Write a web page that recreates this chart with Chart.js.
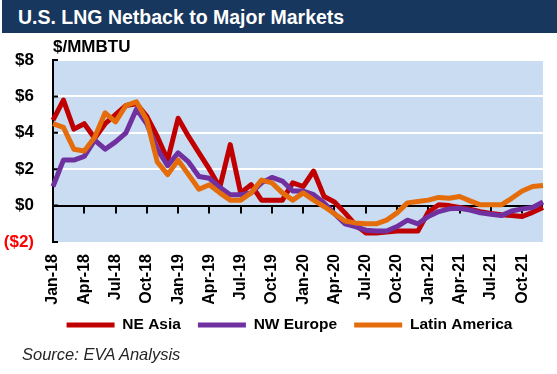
<!DOCTYPE html>
<html>
<head>
<meta charset="utf-8">
<script src="https://cdn.jsdelivr.net/npm/chart.js@4.4.1/dist/chart.umd.min.js"></script>
<style>
  html, body { margin: 0; padding: 0; background: #fff; }
  #wrap { position: relative; width: 557px; height: 374px; overflow: hidden; font-family: 'Liberation Sans', Arial, sans-serif; }
  #title { position: absolute; left: 2px; top: 0; width: 555px; height: 33px; background: #17375E; color: #fff; font-weight: bold; font-size: 19.5px; line-height: 34px; padding-left: 16px; box-sizing: border-box; }
  #unit { position: absolute; left: 53px; top: 37px; font-weight: bold; font-size: 17px; }
  #source { position: absolute; left: 22px; top: 345px; font-style: italic; font-size: 16.5px; color: #262626; }
  canvas { position: absolute; left: 0; top: 0; }
</style>
</head>
<body>
<div id="wrap">
  <canvas id="netback-canvas" width="557" height="374"></canvas>
  <div id="title">U.S. LNG Netback to Major Markets</div>
  <div id="unit">$/MMBTU</div>
  <div id="source">Source: EVA Analysis</div>
</div>
<script>
/* eslint-disable no-undef */
// Meses (ene-18 a dic-21)
const months = [
  'Jan-18', 'Feb-18', 'Mar-18', 'Apr-18', 'May-18', 'Jun-18', 'Jul-18', 'Aug-18', 'Sep-18', 'Oct-18', 'Nov-18', 'Dec-18',
  'Jan-19', 'Feb-19', 'Mar-19', 'Apr-19', 'May-19', 'Jun-19', 'Jul-19', 'Aug-19', 'Sep-19', 'Oct-19', 'Nov-19', 'Dec-19',
  'Jan-20', 'Feb-20', 'Mar-20', 'Apr-20', 'May-20', 'Jun-20', 'Jul-20', 'Aug-20', 'Sep-20', 'Oct-20', 'Nov-20', 'Dec-20',
  'Jan-21', 'Feb-21', 'Mar-21', 'Apr-21', 'May-21', 'Jun-21', 'Jul-21', 'Aug-21', 'Sep-21', 'Oct-21', 'Nov-21', 'Dec-21',
];

// Valores en $/MMBTU
const neAsia = [
  4.7, 5.8, 4.2, 4.5, 3.7, 4.5, 5.0, 5.5, 5.6, 4.9, 3.8, 2.5,
  4.8, 3.8, 2.9, 2.0, 1.0, 3.35, 0.7, 1.15, 0.3, 0.3, 0.3, 1.25,
  1.05, 1.9, 0.5, 0.2, -0.4, -1.05, -1.5, -1.5, -1.45, -1.4, -1.4, -1.4,
  -0.35, 0.05, 0.0, -0.1, -0.2, -0.33, -0.43, -0.5, -0.55, -0.6, -0.37, -0.1,
];
const nwEurope = [
  1.05, 2.5, 2.5, 2.7, 3.6, 3.1, 3.5, 4.0, 5.3, 4.5, 3.1, 2.2,
  2.9, 2.4, 1.6, 1.5, 1.0, 0.6, 0.6, 0.7, 1.25, 1.55, 1.35, 0.8,
  0.8, 0.6, 0.15, -0.45, -1.0, -1.15, -1.35, -1.4, -1.4, -1.15, -0.8, -1.0,
  -0.6, -0.33, -0.18, -0.15, -0.25, -0.4, -0.48, -0.55, -0.3, -0.18, -0.1, 0.2,
];
const latinAmerica = [
  4.5, 4.3, 3.1, 3.0, 3.75, 5.1, 4.6, 5.5, 5.7, 4.7, 2.4, 1.7,
  2.5, 1.7, 0.9, 1.15, 0.7, 0.3, 0.3, 0.7, 1.4, 1.25, 0.7, 0.3,
  0.7, 0.3, -0.05, -0.45, -0.85, -0.95, -1.0, -1.0, -0.8, -0.4, 0.15, 0.22,
  0.3, 0.45, 0.4, 0.5, 0.26, 0.04, 0.04, 0.04, 0.4, 0.8, 1.05, 1.1,
];

const seriesNames = ['NE Asia', 'NW Europe', 'Latin America'];
const seriesColors = ['#C00000', '#7030A0', '#E46C0A'];

// Fondo azul del área de trazado y marcas de los ejes
const plotDecor = {
  id: 'plotDecor',
  afterLayout(chart) {
    // mover la leyenda un poco a la derecha y hacia arriba
    chart.legend.left = 36;
    chart.legend.top -= 6.75;
    chart.legend.bottom -= 6.75;
  },
  beforeDraw(chart) {
    const { ctx, chartArea: a } = chart;
    ctx.save();
    ctx.fillStyle = '#C9DCF1';
    ctx.fillRect(a.left, a.top, a.right - a.left, a.bottom - a.top);
    ctx.restore();
  },
  beforeDatasetsDraw(chart) {
    const { ctx, scales: { x, y } } = chart;
    const zeroY = y.getPixelForValue(0);
    ctx.save();
    ctx.strokeStyle = '#000';
    ctx.lineWidth = 2;
    ctx.beginPath();
    // marcas hacia abajo cada 3 meses sobre la línea de cero
    for (let i = 3; i < months.length; i += 3) {
      const px = Math.round(x.getPixelForValue(i));
      ctx.moveTo(px, zeroY);
      ctx.lineTo(px, zeroY + 8);
    }
    // marcas hacia dentro en el eje vertical
    y.ticks.forEach((t) => {
      const py = y.getPixelForValue(t.value);
      ctx.moveTo(x.left, py);
      ctx.lineTo(x.left + 5, py);
    });
    ctx.stroke();
    ctx.restore();
  },
};

const netbackCanvas = document.getElementById('netback-canvas').getContext('2d');
const netbackChart = new Chart(netbackCanvas, {
  type: 'line',
  data: {
    labels: months,
    datasets: [neAsia, nwEurope, latinAmerica].map((values, k) => ({
      label: seriesNames[k],
      data: values,
      borderColor: seriesColors[k],
      backgroundColor: seriesColors[k],
      borderWidth: 5,
      pointRadius: 0,
      tension: 0,
      borderJoinStyle: 'round',
      order: 3 - k,
    })),
  },
  options: {
    responsive: false,
    animation: false,
    font: { family: "'Liberation Sans', Arial, sans-serif" },
    layout: { padding: { top: 60, right: 14, bottom: 24.5, left: 0 } },
    plugins: {
      tooltip: { enabled: false },
      legend: {
        position: 'bottom',
        labels: {
          usePointStyle: true,
          pointStyle: 'line',
          pointStyleWidth: 48,
          boxHeight: 15,
          padding: 17,
          color: '#000',
          font: { family: "'Liberation Sans', Arial, sans-serif", size: 15.5, weight: 'bold' },
          sort: (a, b) => a.datasetIndex - b.datasetIndex,
        },
      },
    },
    scales: {
      x: {
        grid: { display: false, drawTicks: false },
        border: { display: false },
        afterFit(scale) {
          scale.height = 65;
          scale.paddingLeft = 0;
          scale.paddingRight = 0;
        },
        ticks: {
          autoSkip: false,
          minRotation: 90,
          maxRotation: 90,
          padding: 12,
          color: '#000',
          font: { family: "'Liberation Sans', Arial, sans-serif", size: 16, weight: 'bold' },
          callback: (v, i) => (i % 3 === 0 ? months[i] : ''),
        },
      },
      y: {
        min: -2,
        max: 8,
        afterFit(scale) { scale.width = 53; },
        grid: {
          drawTicks: false,
          lineWidth: 2,
          color: (c) => {
            if (c.tick.value === 0) return '#000';
            if (c.tick.value < 0) return 'rgba(0,0,0,0)';
            return '#FFFFFF';
          },
        },
        border: { display: true, color: '#000', width: 2 },
        ticks: {
          stepSize: 2,
          padding: 19,
          color: (c) => (c.tick.value < 0 ? '#FF0000' : '#000'),
          font: { family: "'Liberation Sans', Arial, sans-serif", size: 17, weight: 'bold' },
          callback: (v) => (v < 0 ? '($' + (-v) + ')' : '$' + v),
        },
      },
    },
  },
  plugins: [plotDecor],
});
netbackChart.update();
</script>
</body>
</html>
